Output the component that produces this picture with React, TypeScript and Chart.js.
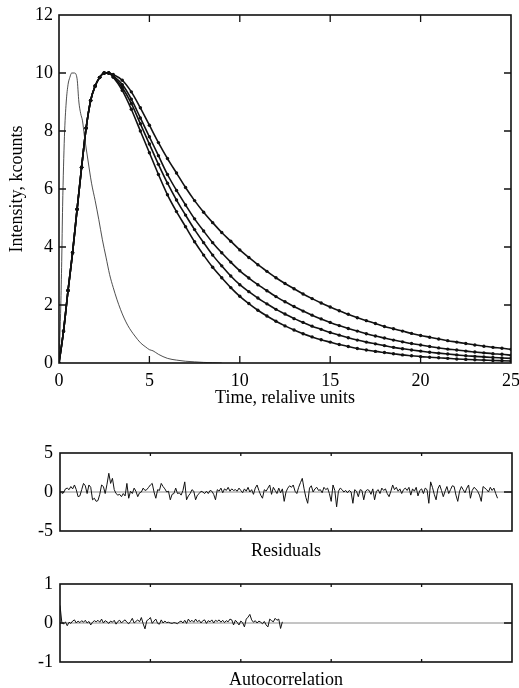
import React, { useEffect, useRef } from "react";
import { Chart, registerables } from "chart.js";

Chart.register(...registerables);

const FONT = "'Liberation Serif', 'Times New Roman', serif";
const FONT_SIZE = 18;

// ---------- main panel data ----------
const decayTimes = [0, 0.25, 0.5, 0.75, 1, 1.25, 1.5, 1.75, 2, 2.25, 2.5, 2.75, 3, 3.5, 4, 4.5, 5, 5.5, 6, 6.5, 7, 7.5, 8, 8.5, 9, 9.5, 10, 10.5, 11, 11.5, 12, 12.5, 13, 13.5, 14, 14.5, 15, 15.5, 16, 16.5, 17, 17.5, 18, 18.5, 19, 19.5, 20, 20.5, 21, 21.5, 22, 22.5, 23, 23.5, 24, 24.5, 25];

const decayA = [0, 1.1, 2.5, 3.8, 5.3, 6.75, 8.1, 9.05, 9.55, 9.85, 10.0, 10.0,
  9.95, 9.75, 9.35, 8.8, 8.2, 7.6, 7.05, 6.55, 6.05, 5.6, 5.2, 4.84, 4.5, 4.2, 3.9, 3.64, 3.39, 3.16, 2.94, 2.74, 2.56, 2.38, 2.22, 2.07, 1.93, 1.8, 1.68, 1.56, 1.46, 1.36, 1.26, 1.18, 1.1, 1.02, 0.95, 0.89, 0.83, 0.77, 0.72, 0.67, 0.62, 0.58, 0.54, 0.51, 0.47];
const decayB = [0, 1.1, 2.5, 3.8, 5.3, 6.75, 8.1, 9.05, 9.55, 9.85, 10.0, 10.0,
  9.9, 9.6, 9.1, 8.45, 7.8, 7.15, 6.5, 5.95, 5.45, 4.97, 4.55, 4.15, 3.8, 3.48, 3.18, 2.93, 2.7, 2.49, 2.29, 2.11, 1.95, 1.79, 1.65, 1.52, 1.4, 1.29, 1.19, 1.1, 1.01, 0.93, 0.86, 0.79, 0.73, 0.67, 0.62, 0.57, 0.52, 0.48, 0.45, 0.41, 0.38, 0.35, 0.32, 0.3, 0.27];
const decayC = [0, 1.1, 2.5, 3.8, 5.3, 6.75, 8.1, 9.05, 9.55, 9.85, 10.0, 10.0,
  9.88, 9.5, 8.95, 8.25, 7.55, 6.85, 6.2, 5.62, 5.1, 4.6, 4.15, 3.72, 3.35, 3.0, 2.7, 2.46, 2.24, 2.04, 1.85, 1.69, 1.53, 1.4, 1.27, 1.16, 1.05, 0.96, 0.87, 0.79, 0.72, 0.66, 0.6, 0.54, 0.49, 0.45, 0.41, 0.37, 0.34, 0.31, 0.28, 0.25, 0.23, 0.21, 0.19, 0.175, 0.16];
const decayD = [0, 1.1, 2.5, 3.8, 5.3, 6.75, 8.1, 9.05, 9.55, 9.85, 10.0, 10.0,
  9.85, 9.4, 8.75, 8.0, 7.25, 6.5, 5.8, 5.22, 4.7, 4.18, 3.72, 3.3, 2.94, 2.6, 2.3, 2.05, 1.82, 1.62, 1.44, 1.28, 1.14, 1.01, 0.9, 0.8, 0.72, 0.64, 0.57, 0.5, 0.45, 0.4, 0.36, 0.32, 0.28, 0.25, 0.22, 0.2, 0.18, 0.16, 0.14, 0.125, 0.11, 0.1, 0.088, 0.079, 0.07];

const irfTimes = [0, 0.1, 0.15, 0.2, 0.3, 0.4, 0.5, 0.6, 0.7, 0.85, 1.0, 1.1, 1.2, 1.3, 1.4, 1.6, 1.8, 2.0, 2.2, 2.4, 2.6, 2.8, 3.0, 3.2, 3.4, 3.6, 3.8, 4.0, 4.2, 4.5, 4.8, 5.0, 5.2, 5.5, 6.0, 6.5, 7.0, 7.5, 8.0, 8.5, 9.0];
const irfValues = [0, 2.0, 3.5, 5.4, 7.8, 9.0, 9.6, 9.85, 10.0, 10.0, 9.8, 9.0, 8.6, 8.35, 7.85, 7.0, 6.2, 5.6, 4.95, 4.25, 3.65, 3.05, 2.6, 2.2, 1.85, 1.55, 1.3, 1.1, 0.93, 0.7, 0.55, 0.46, 0.42, 0.3, 0.16, 0.1, 0.06, 0.04, 0.02, 0.01, 0];

const mainXTicks = [0, 5, 10, 15, 20, 25];
const mainYTicks = [0, 2, 4, 6, 8, 10, 12];

// ---------- residuals (channel step 0.1, first channel at 0.1) ----------
const residualStart = 0.1;
const residualStep = 0.1;
const residualValues = [
  -0.2, -0.1, 0.4, 0.5, 0.3, 0.7, 0.4, 0.9, 0.3, -0.6,
  -0.5, 0.3, 1.1, 0.8, -0.2, 0.9, 0.6, -1.0, -0.8, -1.2,
  -1.1, -0.3, 0.9, 0.7, -0.2, 1.0, 2.4, 1.1, 1.75, 0.3,
  -0.2, -0.4, -0.3, -0.6, -0.2, -0.5, 1.1, -0.8, 0.1, -0.2,
  0.5, 0.1, -0.6, -0.1, 0.0, 0.5, 0.2, 0.3, 0.6, 0.9,
  1.1, 0.0, -0.8, 0.3, 0.2, 1.1, 0.7, 0.4, 0.0, 0.1,
  -1.0, -0.3, -0.2, 0.5, -0.2, -0.1, -0.4, 0.2, 1.3, -1.0,
  -0.5, -0.2, 0.3, 0.1, -1.0, -0.4, -0.2, 0.1, 0.0, -0.2,
  0.1, -0.2, 0.2, 0.1, -0.3, -1.0, 0.3, 0.1, 0.5, -0.1,
  0.4, 0.2, 0.6, 0.1, 0.4, 0.2, 0.3, 0.1, 0.5, 0.2,
  -0.1, 0.4, 0.1, 0.6, 0.0, 0.3, -0.3, 0.5, 0.9, 0.2,
  -0.4, -0.8, 0.3, 0.1, 0.5, 0.9, -0.3, 0.6, 0.2, -0.2,
  0.5, -0.1, 0.4, -1.2, 0.0, 0.5, 0.8, 0.6, 0.9, 0.1,
  -0.2, 0.6, 1.2, 1.75, 0.4, -0.7, -1.45, 0.5, 0.8, 0.0,
  0.4, 0.6, 0.2, 0.3, -0.1, 0.6, 0.3, 0.5, -0.2, -1.2,
  0.9, 0.2, -1.9, 0.1, 0.5, 0.3, 0.0, 0.2, -0.1, 0.2,
  0.0, -1.45, 0.3, 0.1, -0.6, 0.3, 0.2, -1.0, 0.1, 0.3,
  0.2, -0.3, 0.4, -1.0, 0.1, 0.3, -0.2, 0.5, 0.2, 0.4,
  -0.2, -0.6, 0.1, 0.9, 0.3, 0.6, 0.1, 0.4, -0.2, 0.3,
  0.5, 0.2, 0.6, -0.4, 0.4, 0.1, 0.6, -0.5, 0.2, 0.4,
  -0.2, 0.5, 0.3, -1.45, 1.3, 0.6, -0.3, -1.0, 0.4, 0.9,
  0.2, -0.6, 0.1, 0.7, -0.2, 0.3, 0.8, 0.7, -0.4, -1.2,
  0.1, 0.7, 0.3, -0.1, 0.5, 0.9, -0.8, 0.2, 0.6, 0.4,
  0.1, -0.4, -1.2, 0.7, 0.5, 0.3, 0.0, 0.6, 0.2, 0.5,
  -0.2, -0.8,
];
const residualYTicks = [-5, 0, 5];

// ---------- autocorrelation (lag step 0.1, first lag at 0) ----------
const autoStart = 0;
const autoStep = 0.1;
const autoValues = [
  0.45, 0.02, -0.03, 0.03, -0.07, 0.02, -0.01, 0.05, 0.08, 0.0,
  0.05, 0.01, 0.06, 0.02, 0.07, 0.0, 0.04, -0.05, 0.02, 0.06,
  0.03, 0.07, 0.02, 0.1, 0.0, 0.06, 0.03, -0.01, 0.05, 0.02,
  0.07, -0.03, 0.04, 0.07, 0.0, 0.05, 0.08, 0.02, -0.02, 0.04,
  0.12, 0.0, 0.04, 0.08, 0.03, 0.14, -0.02, -0.15, 0.06, 0.09,
  0.14, -0.01, 0.05, 0.1, -0.01, -0.03, 0.08, 0.0, 0.05, 0.01,
  0.02, 0.0, -0.01, 0.01, 0.0, -0.02, 0.03, 0.05, 0.0, 0.07,
  -0.01, 0.1, 0.03, 0.07, 0.02, 0.1, 0.03, 0.07, 0.0, 0.06,
  0.08, -0.01, 0.06, 0.03, 0.08, 0.0, 0.07, 0.04, 0.08, 0.02,
  0.07, 0.01, 0.06, 0.03, 0.1, 0.08, -0.05, 0.07, 0.02, -0.05,
  0.05, 0.01, -0.1, 0.1, 0.15, 0.22, 0.08, 0.02, 0.06, 0.0,
  0.05, 0.02, -0.02, 0.04, -0.05, -0.1, 0.1, 0.06, 0.03, 0.12,
  0.07, 0.1, -0.14, 0.03,
];
const autoYTicks = [-1, 0, 1];

const innerXTicks = [5, 10, 15, 20];

type FrameOpts = {
  xTicks: number[];
  yTicks: number[];
  xLen: number;
  yLenLeft: number;
  yLenRight: number;
  lineWidth: number;
  zeroLine?: boolean;
};

function framePlugin(o: FrameOpts) {
  return {
    id: "frameTicks",
    beforeDatasetsDraw(chart: any) {
      if (!o.zeroLine) return;
      const { ctx, chartArea, scales } = chart;
      const y0 = scales.y.getPixelForValue(0);
      ctx.save();
      ctx.strokeStyle = "#8a8a8a";
      ctx.lineWidth = 1;
      ctx.beginPath();
      ctx.moveTo(chartArea.left, y0);
      ctx.lineTo(chartArea.right, y0);
      ctx.stroke();
      ctx.restore();
    },
    afterDatasetsDraw(chart: any) {
      const { ctx, chartArea, scales } = chart;
      const { left, right, top, bottom } = chartArea;
      ctx.save();
      ctx.strokeStyle = "#111";
      ctx.lineWidth = o.lineWidth;
      ctx.strokeRect(left, top, right - left, bottom - top);
      ctx.beginPath();
      for (const v of o.xTicks) {
        const px = scales.x.getPixelForValue(v);
        ctx.moveTo(px, top);
        ctx.lineTo(px, top + o.xLen);
        ctx.moveTo(px, bottom);
        ctx.lineTo(px, bottom - o.xLen);
      }
      for (const v of o.yTicks) {
        const py = scales.y.getPixelForValue(v);
        ctx.moveTo(left, py);
        ctx.lineTo(left + o.yLenLeft, py);
        ctx.moveTo(right, py);
        ctx.lineTo(right - o.yLenRight, py);
      }
      ctx.lineWidth = 1.3;
      ctx.stroke();
      ctx.restore();
    },
  };
}

const font = { family: FONT, size: FONT_SIZE };

function ChartCanvas({ width, height, top, make }: { width: number; height: number; top: number; make: () => any }) {
  const ref = useRef<HTMLCanvasElement | null>(null);
  useEffect(() => {
    if (!ref.current) return;
    const chart = new Chart(ref.current, make());
    return () => chart.destroy();
  }, []);
  return (
    <canvas
      ref={ref}
      width={width}
      height={height}
      style={{ position: "absolute", left: 0, top, width, height, display: "block" }}
    />
  );
}

function decayDataset(values: number[]) {
  return {
    data: decayTimes.map((t, i) => ({ x: t, y: values[i] })),
    borderColor: "#111",
    borderWidth: 1.6,
    pointRadius: 1.7,
    pointBackgroundColor: "#111",
    pointBorderWidth: 0,
    cubicInterpolationMode: "monotone",
    fill: false,
  };
}

function makeMain() {
  return {
    type: "line",
    data: {
      datasets: [
        {
          data: irfTimes.map((t, i) => ({ x: t, y: irfValues[i] })),
          borderColor: "#222",
          borderWidth: 0.8,
          pointRadius: 0,
          cubicInterpolationMode: "monotone",
          fill: false,
        },
        decayDataset(decayA),
        decayDataset(decayB),
        decayDataset(decayC),
        decayDataset(decayD),
      ],
    },
    options: {
      animation: false,
      responsive: false,
      devicePixelRatio: 1,
      events: [],
      layout: { padding: { left: 0, right: 8, top: 15, bottom: 0 } },
      plugins: { legend: { display: false }, tooltip: { enabled: false } },
      scales: {
        x: {
          type: "linear",
          min: 0,
          max: 25,
          afterBuildTicks: (s: any) => { s.ticks = mainXTicks.map((v) => ({ value: v })); },
          grid: { display: false, drawTicks: false },
          border: { display: false },
          ticks: { font, color: "#000", padding: 7, maxRotation: 0 },
          title: { display: true, text: "Time, relalive units", font, color: "#000", padding: { top: 0, bottom: 1 } },
          afterFit: (s: any) => { s.height = 47; s.paddingLeft = 0; s.paddingRight = 0; },
        },
        y: {
          type: "linear",
          min: 0,
          max: 12,
          afterBuildTicks: (s: any) => { s.ticks = mainYTicks.map((v) => ({ value: v })); },
          grid: { display: false, drawTicks: false },
          border: { display: false },
          ticks: { font, color: "#000", padding: 6 },
          title: { display: true, text: "Intensity, kcounts", font, color: "#000", padding: { top: 6, bottom: 0 } },
          afterFit: (s: any) => { s.width = 59; s.paddingTop = 0; s.paddingBottom = 0; },
        },
      },
    },
    plugins: [framePlugin({ xTicks: innerXTicks, yTicks: [2, 4, 6, 8, 10], xLen: 7, yLenLeft: 7, yLenRight: 7, lineWidth: 1.6 })],
  };
}

function makeSmall(values: number[], start: number, step: number, yTicks: number[], title: string, titlePad: number) {
  return () => ({
    type: "line",
    data: {
      datasets: [
        {
          data: values.map((v, i) => ({ x: start + i * step, y: v })),
          borderColor: "#111",
          borderWidth: 1,
          pointRadius: 0,
          fill: false,
        },
      ],
    },
    options: {
      animation: false,
      responsive: false,
      devicePixelRatio: 1,
      events: [],
      layout: { padding: { left: 0, right: 7, top: 13, bottom: 0 } },
      plugins: { legend: { display: false }, tooltip: { enabled: false } },
      scales: {
        x: {
          type: "linear",
          min: 0,
          max: 25,
          grid: { display: false, drawTicks: false },
          border: { display: false },
          ticks: { display: false },
          title: { display: true, text: title, font, color: "#000", padding: { top: 0, bottom: titlePad } },
          afterFit: (s: any) => { s.height = 33; s.paddingLeft = 0; s.paddingRight = 0; },
        },
        y: {
          type: "linear",
          min: yTicks[0],
          max: yTicks[yTicks.length - 1],
          afterBuildTicks: (s: any) => { s.ticks = yTicks.map((v) => ({ value: v })); },
          grid: { display: false, drawTicks: false },
          border: { display: false },
          ticks: { font, color: "#000", padding: 7 },
          afterFit: (s: any) => { s.width = 60; s.paddingTop = 0; s.paddingBottom = 0; },
        },
      },
    },
    plugins: [framePlugin({ xTicks: innerXTicks, yTicks: [0], xLen: 3, yLenLeft: 4, yLenRight: 8, lineWidth: 1.6, zeroLine: true })],
  });
}

export default function App() {
  return (
    <div style={{ position: "absolute", left: 0, top: 0, width: 519, height: 688, overflow: "hidden", background: "#fff" }}>
      <ChartCanvas width={519} height={410} top={0} make={makeMain} />
      <ChartCanvas width={519} height={124} top={440} make={makeSmall(residualValues, residualStart, residualStep, residualYTicks, "Residuals", 2)} />
      <ChartCanvas width={519} height={124} top={571} make={makeSmall(autoValues, autoStart, autoStep, autoYTicks, "Autocorrelation", 3.5)} />
    </div>
  );
}
